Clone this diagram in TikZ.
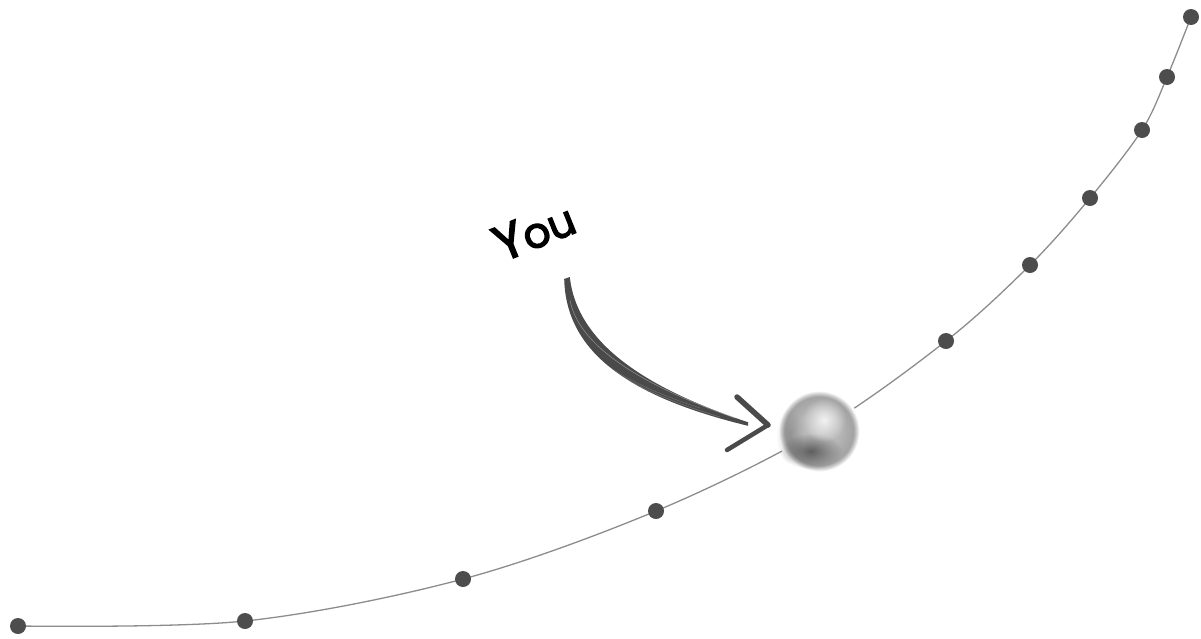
\documentclass[tikz,border=0pt]{standalone}
\usepackage{fontspec}
\newfontfamily\handfont{Poppins}[FakeBold=3]
\usetikzlibrary{fadings,calc}
\definecolor{dotgray}{HTML}{4D4D4D}
\definecolor{linegray}{HTML}{8C8C8C}
\definecolor{brush}{HTML}{4A4A4A}
\tikzfading[name=softspot, inner color=transparent!0, outer color=transparent!100]
\pgfdeclareradialshading{spherebase}{\pgfpoint{0bp}{0bp}}{color(0bp)=(gray!50); color(12bp)=(gray!57); color(18bp)=(gray!68); color(20.5bp)=(gray!72); color(22.3bp)=(gray!38); color(24bp)=(white); color(50bp)=(white)}
\tikzset{
  dot/.style={circle, fill=dotgray, inner sep=0pt, minimum size=16pt},
  track/.style={linegray, line width=1.3pt},
  brushstroke/.style={fill=brush},
  arrowarm/.style={draw=brush, line cap=round, line join=round},
  handlabel/.style={font=\handfont\fontsize{42}{42}\selectfont, rotate=22, inner sep=0pt},
}
\begin{document}
\begin{tikzpicture}[x=1pt,y=-1pt]
\useasboundingbox (0,0) rectangle (1201,638);
% track points
\coordinate (p1) at (18,626);
\coordinate (p2) at (245,621);
\coordinate (p3) at (463,579);
\coordinate (p4) at (656,511);
\coordinate (pm) at (818,431);
\coordinate (p5) at (946,341);
\coordinate (p6) at (1030,265);
\coordinate (p7) at (1090,198);
\coordinate (p8) at (1142,130);
\coordinate (p9) at (1167,77);
\coordinate (p10) at (1191,17);
\draw[track] plot[smooth, tension=0.55] coordinates {(p1) (p2) (p3) (p4) (pm) (p5) (p6) (p7) (p8) (p9) (p10)};
\foreach \i in {1,...,10} { \node[dot] (d\i) at (p\i) {}; }
% sphere
\coordinate (s) at (819,431);
\shade[shading=spherebase] (s) circle (42);
\fill[black!60, path fading=softspot, opacity=0.35] (790,436) ellipse (14 and 28);
\fill[black!85, path fading=softspot, opacity=0.6] (811,451) ellipse (31 and 18);
\fill[gray!8, path fading=softspot, opacity=0.95] (824,420) circle (22);
\node[circle, inner sep=0pt, minimum size=74pt] (ball) at (s) {};
% label
\node[handlabel] (you) at (534,231) {{\fontsize{50}{50}\selectfont Y}ou};
% arrow
\coordinate (a0) at (567,278);
\coordinate (a1) at (748,424);
\coordinate (tip) at (768,425);
\fill[brushstroke] ($(a0)+(2.8,-1)$) .. controls (577,343) and (645,388) .. ($(a1)+(0,-1.8)$)
   -- ($(a1)+(0,1.8)$) .. controls (638,399) and (566,357) .. ($(a0)+(-2.8,1)$) -- cycle;
\draw[white, opacity=0.35, line width=0.6pt] (570,300) .. controls (578,345) and (640,385) .. (735,418);
\draw[white, opacity=0.25, line width=0.5pt] (566,310) .. controls (575,355) and (630,390) .. (720,417);
\draw[white, opacity=0.2, line width=0.5pt] (572,330) .. controls (590,365) and (650,392) .. (700,408);
\draw[arrowarm, line width=5.5pt] (737,397) -- (tip);
\draw[arrowarm, line width=4.5pt] (tip) -- (727,450);
\end{tikzpicture}
\end{document}
